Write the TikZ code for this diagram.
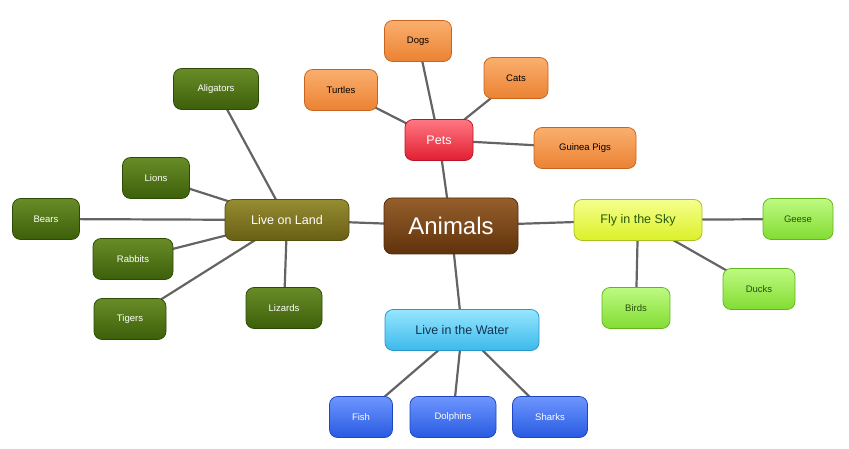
\documentclass[tikz,border=0pt]{standalone}
\usepackage{fontspec}
\setmainfont{Liberation Sans}
\usetikzlibrary{backgrounds}

\tikzset{every picture/.style={line width=0.75pt}}
\tikzset{
  box/.style={draw, rounded corners=8pt, minimum height=41pt, align=center, font=\fontsize{9.5}{11}\selectfont, text=white},
  hub/.style={box, font=\fontsize{12.5}{14}\selectfont},
  link/.style={draw={rgb,255:red,100;green,100;blue,100}, line width=2.2pt},
  brown/.style={top color={rgb,255:red,150;green,95;blue,45}, bottom color={rgb,255:red,95;green,50;blue,10}, draw={rgb,255:red,80;green,40;blue,10}},
  red/.style={top color={rgb,255:red,255;green,120;blue,130}, bottom color={rgb,255:red,225;green,30;blue,50}, draw={rgb,255:red,190;green,20;blue,40}},
  orange/.style={top color={rgb,255:red,250;green,175;blue,110}, bottom color={rgb,255:red,235;green,130;blue,50}, draw={rgb,255:red,200;green,100;blue,30}, text=black},
  olive/.style={top color={rgb,255:red,150;green,140;blue,50}, bottom color={rgb,255:red,105;green,95;blue,20}, draw={rgb,255:red,85;green,80;blue,15}},
  dgreen/.style={top color={rgb,255:red,105;green,140;blue,40}, bottom color={rgb,255:red,60;green,95;blue,10}, draw={rgb,255:red,45;green,75;blue,5}},
  yellow/.style={top color={rgb,255:red,245;green,255;blue,140}, bottom color={rgb,255:red,220;green,240;blue,40}, draw={rgb,255:red,170;green,190;blue,30}, text={rgb,255:red,40;green,90;blue,10}},
  lgreen/.style={top color={rgb,255:red,190;green,250;blue,130}, bottom color={rgb,255:red,130;green,220;blue,50}, draw={rgb,255:red,100;green,180;blue,30}, text={rgb,255:red,40;green,80;blue,10}},
  cyan/.style={top color={rgb,255:red,150;green,230;blue,255}, bottom color={rgb,255:red,60;green,185;blue,235}, draw={rgb,255:red,40;green,150;blue,200}, text={rgb,255:red,20;green,50;blue,80}},
  blue/.style={top color={rgb,255:red,110;green,150;blue,255}, bottom color={rgb,255:red,40;green,90;blue,225}, draw={rgb,255:red,30;green,70;blue,190}},
}

\begin{document}
\begin{tikzpicture}[x=1pt,y=-1pt]
\useasboundingbox (0,0) rectangle (849,449);

% Centre
\node [hub, brown, minimum width=134pt, minimum height=56pt, font=\fontsize{24}{26}\selectfont] (animals) at (451,226) {Animals};

% Groups
\node [hub, red, minimum width=68pt] (pets) at (439,140) {Pets};
\node [hub, olive, minimum width=124pt] (land) at (287,220) {Live on Land};
\node [hub, yellow, minimum width=128pt] (sky) at (638,220) {Fly in the Sky};
\node [hub, cyan, minimum width=154pt] (water) at (462,330) {Live in the Water};

% Pets
\node [box, orange, minimum width=67pt] (dogs) at (418,41) {Dogs};
\node [box, orange, minimum width=64pt] (cats) at (516,78) {Cats};
\node [box, orange, minimum width=73pt] (turtles) at (341,90) {Turtles};
\node [box, orange, minimum width=102pt] (guinea) at (585,148) {Guinea Pigs};

% Land
\node [box, dgreen, minimum width=85pt] (aligators) at (216,89) {Aligators};
\node [box, dgreen, minimum width=67pt] (lions) at (156,178) {Lions};
\node [box, dgreen, minimum width=67pt] (bears) at (46,219) {Bears};
\node [box, dgreen, minimum width=80pt] (rabbits) at (133,259) {Rabbits};
\node [box, dgreen, minimum width=72pt] (tigers) at (130,319) {Tigers};
\node [box, dgreen, minimum width=76pt] (lizards) at (284,308) {Lizards};

% Sky
\node [box, lgreen, minimum width=70pt] (geese) at (798,219) {Geese};
\node [box, lgreen, minimum width=72pt] (ducks) at (759,289) {Ducks};
\node [box, lgreen, minimum width=68pt] (birds) at (636,308) {Birds};

% Water
\node [box, blue, minimum width=63pt] (fish) at (361,417) {Fish};
\node [box, blue, minimum width=86pt] (dolphins) at (453,417) {Dolphins};
\node [box, blue, minimum width=75pt] (sharks) at (550,417) {Sharks};

% Links
\begin{scope}[on background layer]
\foreach \a/\b in {animals/pets, animals/land, animals/sky, animals/water,
  pets/dogs, pets/cats, pets/turtles, pets/guinea,
  land/aligators, land/lions, land/bears, land/rabbits, land/tigers, land/lizards,
  sky/geese, sky/ducks, sky/birds,
  water/fish, water/dolphins, water/sharks}
  \draw [link] (\a.center) -- (\b.center);
\end{scope}

\end{tikzpicture}
\end{document}
